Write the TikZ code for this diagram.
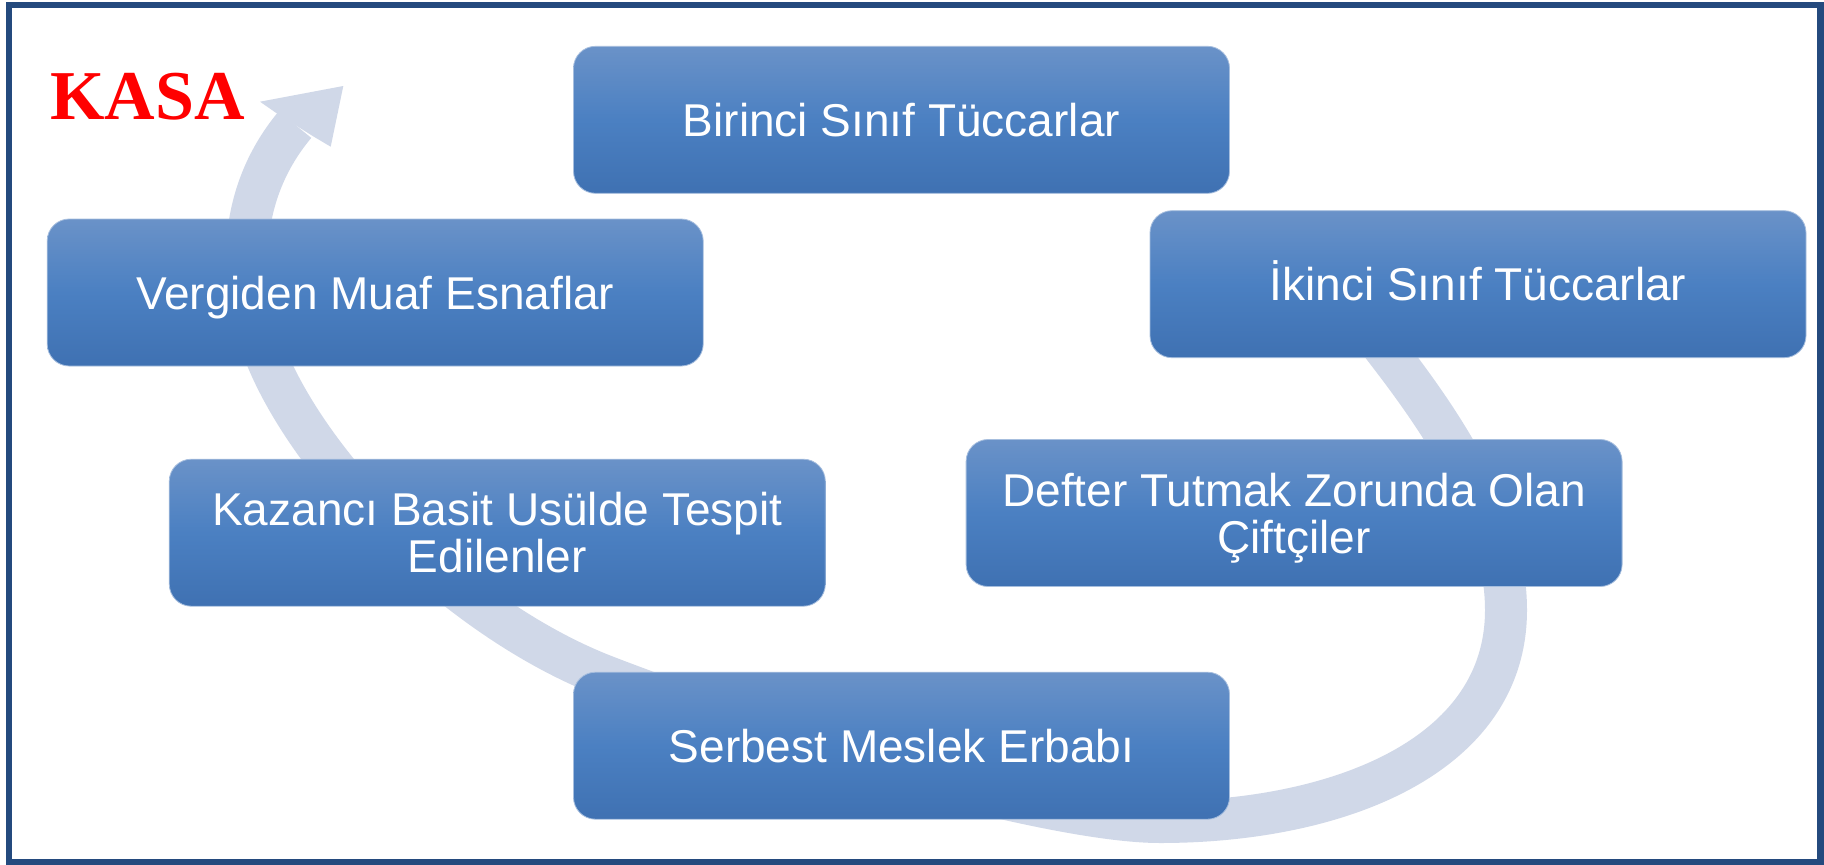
\documentclass[tikz,border=0pt]{standalone}
\usepackage{fontspec}
\setmainfont{Liberation Sans}
\newfontfamily\titlefont{Liberation Serif}
\definecolor{framecol}{HTML}{244A7E}
\definecolor{bandcol}{HTML}{D0D8E8}
\definecolor{boxtop}{HTML}{6A92C8}
\definecolor{boxmid}{HTML}{4B80C2}
\definecolor{boxbot}{HTML}{3F71B2}
\definecolor{kasared}{HTML}{FF0000}
\begin{document}
\begin{tikzpicture}[x=1pt,y=-1pt,
  stagebox/.style={rectangle, rounded corners=22pt, minimum width=656pt,
    minimum height=147pt, inner sep=0pt, top color=boxtop, bottom color=boxbot,
    middle color=boxmid, draw=boxtop!60!white, line width=0.8pt, text=white,
    font=\fontsize{46}{47}\selectfont, align=center, text depth=0pt},
  oneline/.style={text height=33pt},
  band/.style={draw=bandcol, line width=42pt, line cap=butt},
  headfill/.style={fill=bandcol, draw=none},
  frame/.style={draw=framecol, line width=6.5pt}]
\useasboundingbox (0,0) rectangle (1824,865);
\fill[white] (0,0) rectangle (1824,865);
% outer frame
\draw[frame] (9,5) rectangle (1820.5,862);

% cycle band running behind the stages
\coordinate (tail) at (1330,277);
\coordinate (tip)  at (295,124.6);
\draw[band] (tail) -- (1392,358)
  .. controls (1447,430) and (1506,520) .. (1506,610)
  .. controls (1506,758) and (1335,822) .. (1160,822)
  .. controls (1050,822) and (770,740) .. (605,676)
  .. controls (455,618) and (300,460) .. (260,340)
  .. controls (243,289) and (232,200) .. (tip);
% arrow head
\fill[headfill] (276.7,113.3) -- (260,101.7) -- (343.3,86) -- (330.7,146.7)
  -- (312.7,136) -- cycle;

% stages
\node[stagebox, oneline] (birinci)  at (901.5,119.8) {Birinci Sınıf Tüccarlar};
\node[stagebox, oneline] (ikinci)   at (1478,284.2)  {İkinci Sınıf Tüccarlar};
\node[stagebox, oneline] (vergiden) at (375.2,292.5) {Vergiden Muaf Esnaflar};
\node[stagebox]          (kazanci)  at (497.3,532.7) {Kazancı Basit Usülde Tespit\\Edilenler};
\node[stagebox]          (defter)   at (1294.1,513)  {Defter Tutmak Zorunda Olan\\Çiftçiler};
\node[stagebox, oneline] (serbest)  at (901.5,745.7) {Serbest Meslek Erbabı};

% title
\node[anchor=base west, inner sep=0pt, text=kasared,
  font=\titlefont\bfseries\fontsize{70}{70}\selectfont] (kasa) at (50,119) {KASA};
\end{tikzpicture}
\end{document}
